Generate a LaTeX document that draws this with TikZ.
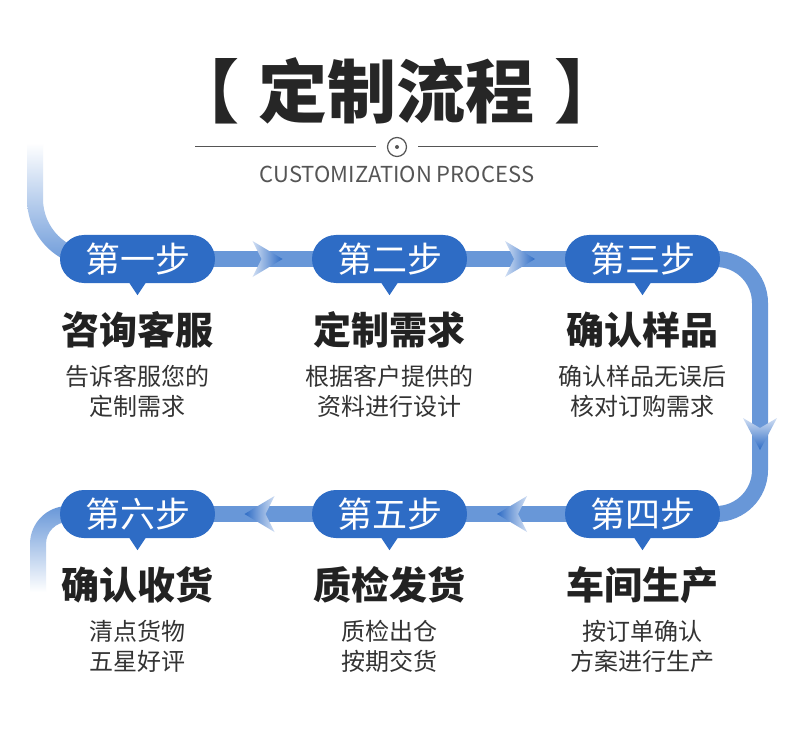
\documentclass[tikz,border=0pt]{standalone}
\usepackage{fontspec}
\setmainfont{Noto Sans CJK SC}
\usetikzlibrary{positioning,calc,shapes.misc,backgrounds}

\definecolor{pill}{RGB}{46,108,197}
\definecolor{band}{RGB}{104,151,216}
\definecolor{bandlight}{RGB}{208,222,243}
\definecolor{ink}{RGB}{34,34,34}
\definecolor{rule}{RGB}{85,85,85}

\begin{document}
\begin{tikzpicture}
  [
    x=1pt, y=1pt,
    stepbox/.style={
      rounded rectangle,
      fill=pill,
      text=white,
      minimum width=155pt,
      minimum height=48pt,
      inner sep=0pt,
      font=\fontsize{35}{35}\selectfont
    },
    head/.style={
      text=ink,
      font=\fontsize{38}{38}\selectfont\bfseries
    },
    desc/.style={
      text=black!80,
      align=center,
      font=\fontsize{24}{30}\selectfont
    },
    band/.style={
      draw=band,
      line width=16pt
    }
  ]
  \useasboundingbox (0,0) rectangle (790,-730);

  % title
  \node [text=black!85, font=\fontsize{69}{69}\selectfont\bfseries] (title) at (397,-91) {【\hspace{20pt}定制流程\hspace{20pt}】};
  \draw [rule, line width=1pt] (195,-147) -- (376,-147);
  \draw [rule, line width=1pt] (418,-147) -- (598,-147);
  \draw [rule, line width=1.2pt] (397,-147) circle (9.5);
  \fill [rule] (397,-147) circle (2);
  \node [text=rule, font=\fontsize{22}{22}\selectfont] (sub) at (397,-174) {CUSTOMIZATION PROCESS};

  % steps
  \foreach \n/\x/\y/\s in {1/137.5/259/第一步, 2/389.5/259/第二步, 3/642.5/259/第三步,
                           4/642.5/514/第四步, 5/389.5/514/第五步, 6/137.5/514/第六步} {
    \node [stepbox] (s\n) at (\x,-\y) {\s};
    \fill [pill] ([xshift=-8pt]s\n.south) -- ([xshift=8pt]s\n.south) -- ([yshift=-12pt]s\n.south) -- cycle;
  }

  % texts
  \foreach \n/\h/\da/\db in {1/咨询客服/告诉客服您的/定制需求, 2/定制需求/根据客户提供的/资料进行设计,
                             3/确认样品/确认样品无误后/核对订购需求, 4/车间生产/按订单确认/方案进行生产,
                             5/质检发货/质检出仓/按期交货, 6/确认收货/清点货物/五星好评} {
    \node [head] (h\n) at ($(s\n.center)+(0,-71)$) {\h};
    \node [desc] (d\n) at ($(s\n.center)+(0,-132.5)$) {\da\\\db};
  }

  % bands
  \begin{scope}[on background layer]
    \fill [white] (0,0) rectangle (790,-730);
    \draw [band] (s1.center) -- (s2.center) -- (s3.center);
    \draw [band, rounded corners=44pt] (s3.center) -- (760,-259) -- (760,-514) -- (s4.center);
    \draw [band] (s4.center) -- (s5.center) -- (s6.center);
    \shade [top color=white, bottom color=band] (27,-143) -- (27,-199) arc [start angle=180, end angle=270, radius=68]
      -- (137,-267) -- (137,-251) -- (95,-251) arc [start angle=270, end angle=180, radius=52] -- (43,-143) -- cycle;
    \shade [top color=band, bottom color=white] (137,-506) -- (68,-506) arc [start angle=90, end angle=180, radius=38]
      -- (30,-592) -- (46,-592) -- (46,-544) arc [start angle=180, end angle=90, radius=22] -- (137,-522) -- cycle;
  \end{scope}

  % arrowheads
  \coordinate (a12) at ($(s1.east)!.5!(s2.west)+(4,0)$);
  \coordinate (a23) at ($(s2.east)!.5!(s3.west)+(4,0)$);
  \coordinate (a45) at ($(s4.west)!.5!(s5.east)+(-4,0)$);
  \coordinate (a56) at ($(s5.west)!.5!(s6.east)+(-4,0)$);
  \coordinate (a34) at (760,-434);
  \foreach \c in {a12,a23} {
    \begin{scope}[shift={(\c)}]
      \shade [left color=bandlight, right color=pill] (-15,18) -- (15,0) -- (-15,-18) -- (-6,0) -- cycle;
    \end{scope}
  }
  \foreach \c in {a45,a56} {
    \begin{scope}[shift={(\c)}]
      \shade [left color=pill, right color=bandlight] (15,18) -- (-15,0) -- (15,-18) -- (6,0) -- cycle;
    \end{scope}
  }
  \begin{scope}[shift={(a34)}]
    \shade [top color=bandlight, bottom color=pill] (-17,16) -- (0,-16) -- (17,16) -- (0,6) -- cycle;
  \end{scope}
\end{tikzpicture}
\end{document}
